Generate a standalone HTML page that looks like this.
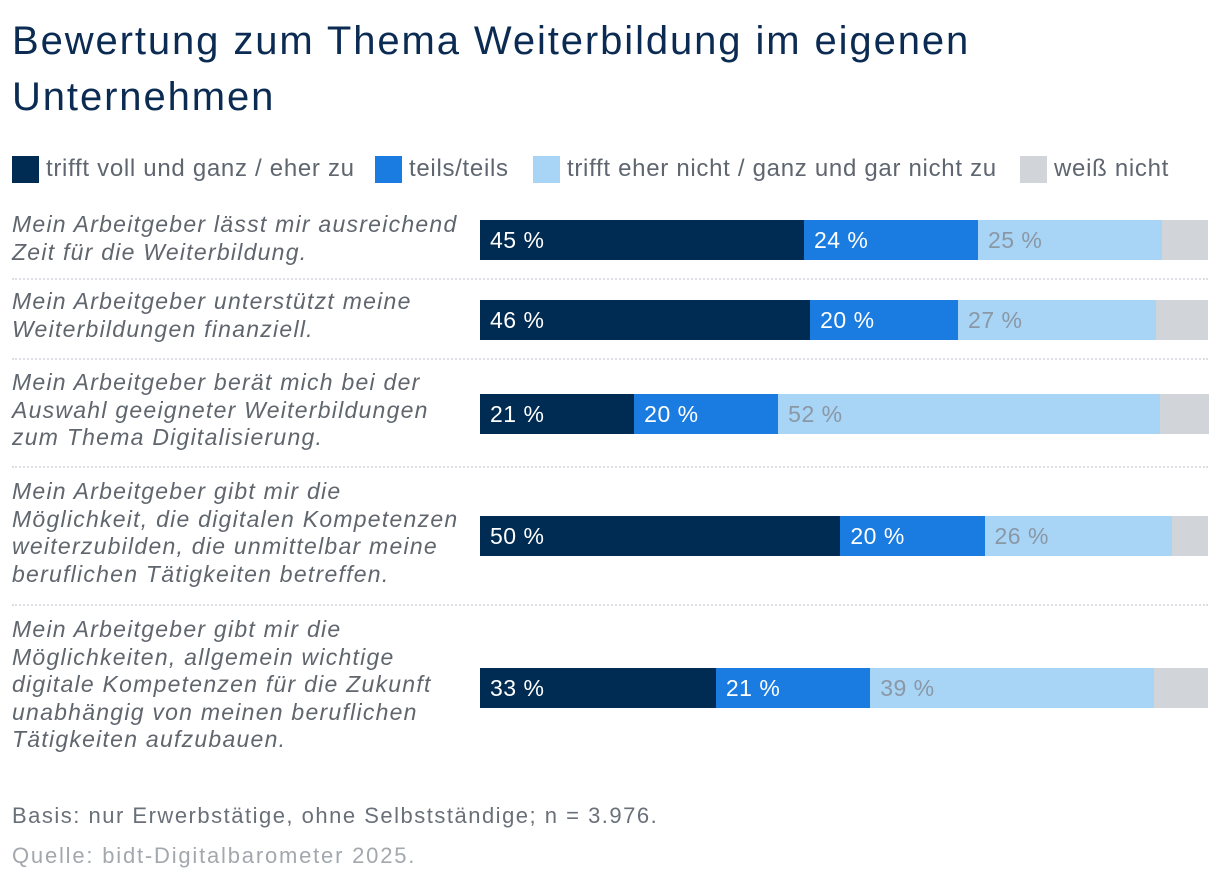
<!DOCTYPE html>
<html><head><meta charset="utf-8"><style>
body{margin:0;width:1220px;height:880px;background:#fff;font-family:"Liberation Sans",sans-serif;position:relative;overflow:hidden}
.t{position:absolute;left:12px;top:13px;font-size:40px;letter-spacing:1.9px;line-height:56px;color:#0b2b52;white-space:nowrap}
.lg{position:absolute;top:155px;font-size:24px;letter-spacing:0.7px;color:#5f6670;display:flex;align-items:center;white-space:nowrap}
.sw{width:27px;height:27px;margin-right:7px}
.lab{position:absolute;left:12px;font-size:23px;letter-spacing:1.25px;line-height:27.5px;font-style:italic;color:#60666e;width:470px;white-space:nowrap}
.sep{position:absolute;left:12px;width:1196px;border-top:2px dotted #dcdfe3;height:0}
.ft{position:absolute;left:12px;font-size:22px;letter-spacing:1.5px;color:#6a7079;white-space:nowrap}
</style></head><body>
<div class="t">Bewertung zum Thema Weiterbildung im eigenen<br>Unternehmen</div>
<div class="lg" style="left:12px"><div class="sw" style="background:#002b52"></div>trifft voll und ganz / eher zu</div>
<div class="lg" style="left:375px"><div class="sw" style="background:#1a7be0"></div>teils/teils</div>
<div class="lg" style="left:533px"><div class="sw" style="background:#a8d4f6"></div>trifft eher nicht / ganz und gar nicht zu</div>
<div class="lg" style="left:1020px"><div class="sw" style="background:#d1d5d9"></div>weiß nicht</div>
<div id="chart"></div>
<div class="ft" style="top:803px">Basis: nur Erwerbstätige, ohne Selbstständige; n = 3.976.</div>
<div class="ft" style="top:843px;color:#a3a8ae;letter-spacing:1.8px">Quelle: bidt-Digitalbarometer 2025.</div>
<script>
const categories=["Mein Arbeitgeber lässt mir ausreichend<br>Zeit für die Weiterbildung.","Mein Arbeitgeber unterstützt meine<br>Weiterbildungen finanziell.","Mein Arbeitgeber berät mich bei der<br>Auswahl geeigneter Weiterbildungen<br>zum Thema Digitalisierung.","Mein Arbeitgeber gibt mir die<br>Möglichkeit, die digitalen Kompetenzen<br>weiterzubilden, die unmittelbar meine<br>beruflichen Tätigkeiten betreffen.","Mein Arbeitgeber gibt mir die<br>Möglichkeiten, allgemein wichtige<br>digitale Kompetenzen für die Zukunft<br>unabhängig von meinen beruflichen<br>Tätigkeiten aufzubauen."];
const agree=[44.5,45.3,21.2,49.5,32.4];
const partly=[23.9,20.3,19.8,19.8,21.2];
const disagree=[25.3,27.2,52.5,25.8,39.0];
const unknown=[6.3,7.1,6.6,4.9,7.4];
const agreeLabels=["45 %","46 %","21 %","50 %","33 %"];
const partlyLabels=["24 %","20 %","20 %","20 %","21 %"];
const disagreeLabels=["25 %","27 %","52 %","26 %","39 %"];
const barTops=[220,300,394,516,668], labTops=[211,288,369,478,616], seps=[278,358,466,604];
const X0=480,W=728;const xs=v=>v/100*W;
const c=document.getElementById('chart');
const series=[[agree,'#002b52',agreeLabels,'#fff','seg-agree'],[partly,'#1a7be0',partlyLabels,'#fff','seg-partly'],[disagree,'#a8d4f6',disagreeLabels,'#8a98a6','seg-disagree'],[unknown,'#d1d5d9',null,'','seg-unknown']];
categories.forEach((cat,i)=>{
 const l=document.createElement('div');l.className='lab';l.style.top=labTops[i]+'px';l.innerHTML=cat;
 
 
 c.appendChild(l);
 const tot=agree[i]+partly[i]+disagree[i]+unknown[i];let x=X0;
 series.forEach(s=>{
  const w=xs(s[0][i]/tot*100);const d=document.createElement('div');
  d.style.cssText=`position:absolute;left:${x}px;top:${barTops[i]}px;width:${w+0.5}px;height:40px;background:${s[1]};color:${s[3]};font-size:23px;letter-spacing:0.5px;line-height:40px;padding-left:10px;box-sizing:border-box;white-space:nowrap`;
  if(s[2])d.textContent=s[2][i];
  
  
  c.appendChild(d);x+=w;
 });
});
seps.forEach(y=>{const s=document.createElement('div');s.className='sep';s.style.top=y+'px';
 
 
 c.appendChild(s);});
</script>
</body></html>
